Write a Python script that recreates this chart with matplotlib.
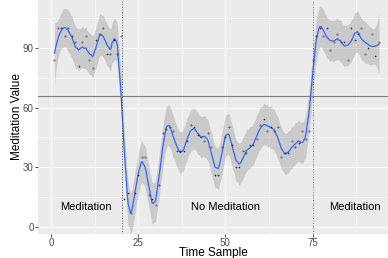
import numpy as np
import matplotlib.pyplot as plt

plt.rcParams['font.family'] = ['Liberation Sans', 'DejaVu Sans']

# meditation readings, one per time sample (t = 1..94)
time_sample = np.arange(1, 95)
meditation = np.array([
    84, 100, 100, 96, 100, 96, 93, 81, 93, 96,
    84, 80, 94, 97, 100, 87, 87, 94, 87, 96,
    14, 17, 7, 17, 26, 35, 35, 16, 14, 11,
    21, 47, 49, 50, 48, 38, 38, 38, 43, 51,
    50, 46, 45, 43, 47, 40, 26, 26, 40, 45,
    50, 41, 30, 30, 38, 37, 41, 41, 44, 51,
    54, 48, 50, 48, 50, 35, 37, 37, 43, 40,
    42, 48, 44, 48, 84, 96, 100, 96, 100, 89,
    93, 97, 93, 93, 84, 100, 94, 97, 100, 87,
    90, 97, 86, 93], dtype=float)

threshold = 66
phase_breaks = [20.5, 75]
phase_labels = ['Meditation', 'No Meditation', 'Meditation']
phase_label_x = [10, 50, 87]
phase_label_y = 10


def loess(x, y, xg, span=0.1):
    # local quadratic fit with tricube weights, like R's loess
    n = len(x)
    q = int(np.floor(n * span))

    def row(x0):
        d = np.abs(x - x0)
        h = np.sort(d)[q - 1]
        w = np.clip(1 - (d / h) ** 3, 0, None) ** 3
        X = np.column_stack([np.ones(n), x - x0, (x - x0) ** 2])
        XtW = X.T * w
        return np.linalg.solve(XtW @ X, XtW)[0]

    L = np.array([row(x0) for x0 in x])
    resid = y - L @ y
    M = np.eye(n) - L
    delta1 = np.trace(M.T @ M)
    sigma = np.sqrt(np.sum(resid ** 2) / delta1)
    G = np.array([row(x0) for x0 in xg])
    fit = G @ y
    se = sigma * np.sqrt(np.sum(G ** 2, axis=1))
    return fit, se


grid = np.linspace(time_sample.min(), time_sample.max(), 300)
fit, se = loess(time_sample, meditation, grid)
lo, hi = fit - 2.6 * se, fit + 2.6 * se

fig = plt.figure(figsize=(3.88, 2.58), dpi=100)
ax = fig.add_axes([38 / 388, 24 / 258, 350 / 388, 234 / 258])
ax.set_facecolor('#EBEBEB')
for s in ax.spines.values():
    s.set_visible(False)

ax.set_xlim(-3.72, 96.6)
ax.set_ylim(-3.4, 113.9)
ax.set_xticks([0, 25, 50, 75])
ax.set_xticks([12.5, 37.5, 62.5, 87.5], minor=True)
ax.set_yticks([0, 30, 60, 90])
ax.set_yticks([15, 45, 75, 105], minor=True)
ax.grid(True, which='major', color='white', lw=0.8)
ax.grid(True, which='minor', color='white', lw=0.4)
ax.set_axisbelow(True)
ax.tick_params(which='major', length=2.2, width=0.6, color='#333333',
               labelsize=7, labelcolor='#4D4D4D', pad=1)
ax.tick_params(axis='x', which='major', pad=0.5)
ax.tick_params(which='minor', length=0)

ax.fill_between(grid, lo, hi, color='#999999', alpha=0.4, lw=0)
ax.plot(grid, fit, color='#3366FF', lw=0.9)
ax.scatter(time_sample, meditation, s=1.2, color='black', lw=0, zorder=3)

ax.axhline(threshold, color='#7F7F7F', lw=0.8)
for b in phase_breaks:
    ax.axvline(b, color='#555555', lw=0.7, ls=':')

for lx, lab in zip(phase_label_x, phase_labels):
    ax.text(lx, phase_label_y, lab, ha='center', va='center', fontsize=8)

ax.set_xlabel('Time Sample', fontsize=8.5, labelpad=-0.5)
ax.set_ylabel('Meditation Value', fontsize=8.5, labelpad=0)

fig.savefig('out.png', dpi=100)
